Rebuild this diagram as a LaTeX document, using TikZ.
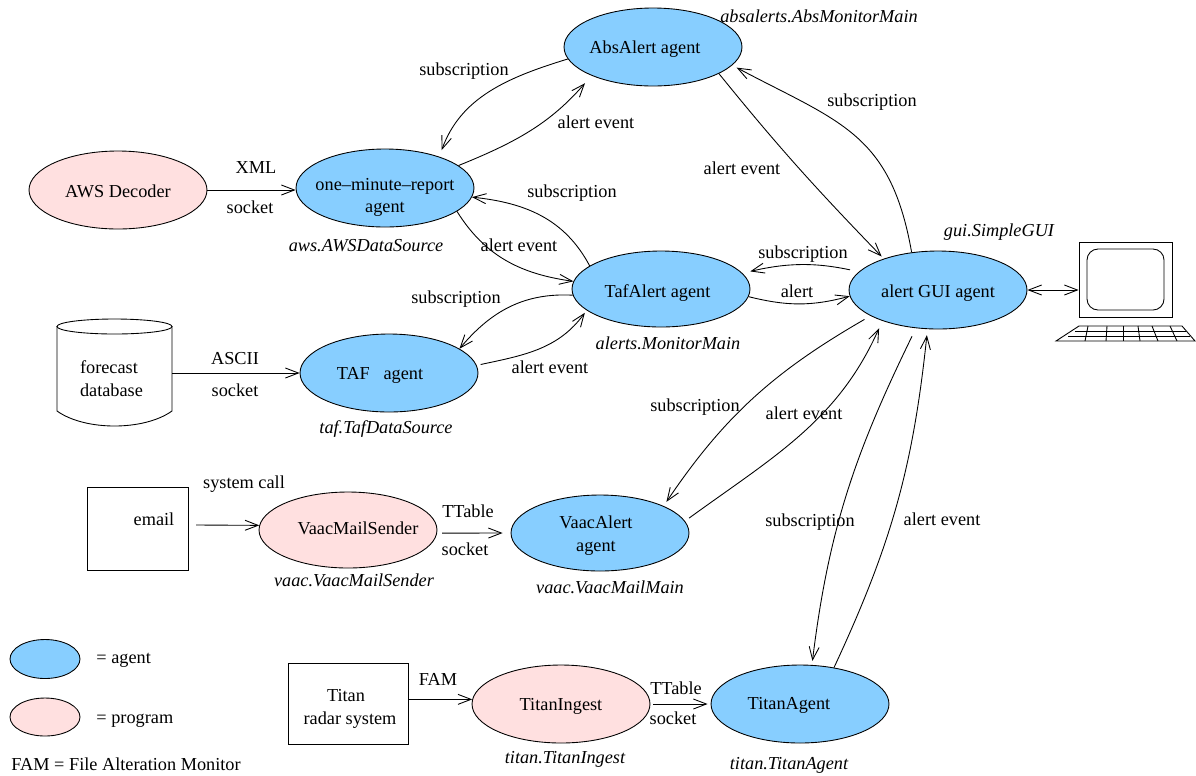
\documentclass[tikz,border=0pt]{standalone}
\usepackage{fontspec}
\setmainfont{Liberation Serif}
\usetikzlibrary{arrows.meta,shapes.geometric}
\definecolor{agentblue}{RGB}{135,206,255}
\definecolor{programpink}{RGB}{255,224,224}
\newcommand{\inellipse}[2]{\raisebox{#1}[0pt][0pt]{\makebox[0pt]{#2}}}

\begin{document}
\begin{tikzpicture}[x=0.02cm,y=-0.02cm,line width=0.5pt,
    font=\fontsize{10.4}{13}\selectfont,
    >={Straight Barb[length=2.6mm,width=2mm]},
    agent/.style={ellipse,draw,fill=agentblue,minimum width=3.56cm,minimum height=1.56cm,inner sep=0pt,align=center},
    program/.style={agent,fill=programpink},
    box/.style={rectangle,draw,inner sep=0pt},
    tag/.style={inner sep=0pt,text height=7.5pt,text depth=0.7pt},
    classname/.style={tag,font=\fontsize{10.4}{13}\selectfont\itshape},
    link/.style={->}]
    \useasboundingbox (0,0) rectangle (1196,775);

    %agents
    \node [agent] (AbsAlert) at (653,47) {\inellipse{-0.126cm}{AbsAlert agent\kern0.32cm}};
    \node [agent] (MinuteReport) at (385,188) {\inellipse{-0.27cm}{one--minute--report}\\\inellipse{-0.27cm}{agent}};
    \node [agent,minimum height=1.52cm] (TafAlert) at (661,289) {\inellipse{-0.16cm}{\kern-0.04cm TafAlert agent\kern0.1cm}};
    \node [agent] (TAF) at (389,373) {\inellipse{-0.12cm}{TAF\ \ \ agent\kern0.36cm}};
    \node [agent] (AlertGUI) at (938,290) {\inellipse{-0.14cm}{alert GUI agent}};
    \node [agent,minimum height=1.52cm] (VaacAlert) at (600,533) {\inellipse{-0.14cm}{VaacAlert\kern0.16cm}\\\inellipse{-0.14cm}{agent\kern0.16cm}};
    \node [agent] (TitanAgent) at (800,704) {\inellipse{-0.1cm}{TitanAgent\kern0.44cm}};

    %programs
    \node [program] (AWSDecoder) at (118,190) {\inellipse{-0.14cm}{AWS Decoder}};
    \node [program,minimum height=1.52cm] (VaacMailSender) at (348,530) {\inellipse{-0.08cm}{\kern0.4cm VaacMailSender}};
    \node [program] (TitanIngest) at (561,704) {\inellipse{-0.12cm}{TitanIngest}};

    %database
    \draw (57,326) -- (57,411) .. controls (85,431) and (144,431) .. (172,411) -- (172,326);
    \draw (114.5,326.5) ellipse [x radius=57.5,y radius=7.5];
    \node [inner sep=0pt,minimum width=2.42cm,align=left] (Database) at (111.5,373) {\rule{0pt}{0.49cm}forecast\\database};

    %boxes
    \node [box,minimum width=2.02cm,minimum height=1.66cm] (Email) at (137.5,528.5) {};
    \node [tag] (EmailText) at (154,520) {email};
    \coordinate (EmailOut) at (196,525);
    \node [box,minimum width=2.4cm,minimum height=1.62cm,align=center] (TitanRadar) at (348,703.5) {\rule{0pt}{0.46cm}Titan\kern0.08cm\\\kern0.08cm radar system};

    %computer
    \node [box,minimum width=1.86cm,minimum height=1.5cm] (Monitor) at (1125.5,279.5) {};
    \node [box,rounded corners=0.22cm,minimum width=1.54cm,minimum height=1.22cm] (Screen) at (Monitor) {};
    \draw (1079,326) -- (1182,326) -- (1195,341) -- (1056,341) -- cycle;
    \foreach \y/\xa/\xb in {331/1075/1186,336/1068/1190}
      \draw (\xa,\y) -- (\xb,\y);
    \foreach \xa/\xb in {1088/1085,1107/1106,1123/1123,1138/1140,1152/1158,1170/1177}
      \draw (\xa,326) -- (\xb,341);

    %straight connectors
    \draw [link] (AWSDecoder.east) -- (MinuteReport.west |- AWSDecoder.east);
    \draw [link] (Database.east) -- (TAF.west);
    \draw [link] (EmailOut) -- (VaacMailSender.177);
    \draw [link,shorten <=0.1cm,shorten >=0.16cm] (VaacMailSender.-2) -- (VaacAlert.west);
    \draw [link] (TitanRadar.east |- TitanIngest.177) -- (TitanIngest.177);
    \draw [link,shorten <=0.06cm,shorten >=0.06cm] (TitanIngest.east) -- (TitanAgent.west);
    \draw [<->] (AlertGUI.east) -- (Monitor.west |- AlertGUI.east);

    %curved connectors
    \draw [link,shorten >=0.14cm] (AbsAlert.188) to [out=197,in=70] (MinuteReport.30);
    \draw [link,shorten >=0.2cm] (MinuteReport.17) to [out=22,in=229] (AbsAlert.205);
    \draw [link,shorten >=0.06cm] (AbsAlert.-22) to [out=-51,in=134] (AlertGUI.150);
    \draw [link,shorten >=0.1cm] (AlertGUI.125) to [out=100,in=-28,looseness=1.2] (AbsAlert.-13);
    \draw [link] (MinuteReport.-18) to [out=-58,in=172] (TafAlert.175);
    \draw [link] (TafAlert.162) to [out=118,in=-6] (MinuteReport.-6);
    \draw [link] (TafAlert.184) to [out=177,in=50] (TAF.19);
    \draw [link,shorten <=0.08cm,shorten >=0.06cm] (TAF.5) to [out=12,in=234] (TafAlert.196);
    \draw [link] (TafAlert.-5) to [out=-14,in=195] (AlertGUI.184);
    \draw [link,shorten <=0.18cm,shorten >=0.16cm] (AlertGUI.167) to [out=168,in=13] (TafAlert.11);
    \draw [link,shorten <=0.14cm,shorten >=0.1cm] (AlertGUI.201) to [out=210,in=56] (VaacAlert.23);
    \draw [link,shorten <=0.1cm,shorten >=0.16cm] (VaacAlert.8) to [out=36,in=246] (AlertGUI.209);
    \draw [link,shorten <=0.18cm,shorten >=0.08cm] (AlertGUI.240) to [out=244,in=83] (TitanAgent.73);
    \draw [link,shorten >=0.12cm] (TitanAgent.47) to [out=65,in=264] (AlertGUI.255);

    %class names
    \node [classname] (AbsClass) at (819,17) {absalerts.AbsMonitorMain};
    \node [classname] (AwsClass) at (366,246) {aws.AWSDataSource};
    \node [classname] (GuiClass) at (999,231) {gui.SimpleGUI};
    \node [classname] (TafAlertClass) at (668,344) {alerts.MonitorMain};
    \node [classname] (TafClass) at (386,428) {taf.TafDataSource};
    \node [classname] (MailClass) at (354,581) {vaac.VaacMailSender};
    \node [classname] (VaacClass) at (610,588) {vaac.VaacMailMain};
    \node [classname] (IngestClass) at (565,758) {titan.TitanIngest};
    \node [classname] (TitanClass) at (789,764) {titan.TitanAgent};

    %connector labels
    \node [tag] (SubA) at (464,70) {subscription};
    \node [tag] (EventA) at (596,123) {alert event};
    \node [tag] (SubB) at (872,101) {subscription};
    \node [tag] (EventB) at (742,169) {alert event};
    \node [tag] (SubC) at (572,192) {subscription};
    \node [tag] (EventC) at (519,246) {alert event};
    \node [tag] (SubD) at (456,298) {subscription};
    \node [tag] (EventD) at (550,368) {alert event};
    \node [tag] (SubE) at (803,253) {subscription};
    \node [tag] (AlertF) at (797,292) {alert};
    \node [tag] (SubG) at (695,406) {subscription};
    \node [tag] (EventG) at (804,414) {alert event};
    \node [tag] (SubH) at (810,521) {subscription};
    \node [tag] (EventH) at (942,520) {alert event};
    \node [tag] (XmlTag) at (256,168) {XML};
    \node [tag] (SocketA) at (250,208) {socket};
    \node [tag] (AsciiTag) at (235,359) {ASCII};
    \node [tag] (SocketB) at (235,391) {socket};
    \node [tag] (SysTag) at (244,483) {system call};
    \node [tag] (TableA) at (468,512) {TTable};
    \node [tag] (SocketC) at (465,550) {socket};
    \node [tag] (FamTag) at (438,680) {FAM};
    \node [tag] (TableB) at (676,689) {TTable};
    \node [tag] (SocketD) at (673,719) {socket};

    %legend
    \node [agent,minimum width=1.4cm,minimum height=0.78cm] (KeyAgent) at (45,659) {};
    \node [program,minimum width=1.4cm,minimum height=0.76cm] (KeyProgram) at (45,717) {};
    \node [tag,anchor=west] (KeyAgentText) at (96,658) {= agent};
    \node [tag,anchor=west] (KeyProgramText) at (96,718) {= program};
    \node [tag,anchor=west] (KeyFam) at (11,765) {FAM = File Alteration Monitor};
\end{tikzpicture}
\end{document}
